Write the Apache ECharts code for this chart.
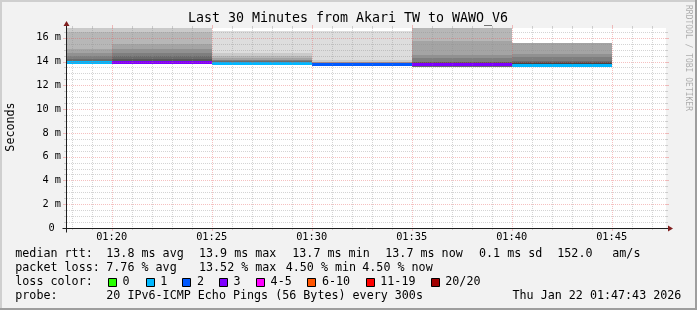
<!DOCTYPE html>
<html><head><meta charset="utf-8">
<script src="https://cdn.jsdelivr.net/npm/echarts@6/dist/echarts.min.js"></script>
<style>html,body{margin:0;padding:0;background:#f2f2f2}#c{width:697px;height:310px}</style>
</head><body><div id="c"></div><script>
// ================= DATA =================
const titleText = "Last 30 Minutes from Akari TW to WAWO_V6";
const yUnitLabel = "Seconds";
const startTime = "01:17:43";
const endTime = "01:47:43";
const stepMinutes = 5;
// end of each 5-minute interval (value covers the preceding 5 minutes)
const intervalEnds = ["01:20", "01:25", "01:30", "01:35", "01:40", "01:45"];
// median rtt (ms) per interval
const medianRtt = [13.92, 13.92, 13.89, 13.78, 13.78, 13.75];
// lost pings (out of 20) per interval
const lossCount = [1, 3, 1, 2, 3, 1];
// 20 sorted ping times (ms) per interval, null = lost / unknown
const pings_0120 = [13.78, 13.78, 13.78, 13.78, 13.78, 13.78, 13.80, 13.82, 13.85, 13.90,
                    13.95, 14.00, 14.05, 14.23, 14.45, 14.73, 15.02, 16.50, 16.82, null];
const pings_0125 = [13.80, 13.80, 13.80, 13.80, 13.80, 13.81, 13.82, 13.84, 13.86, 13.90,
                    13.98, 14.08, 14.23, 14.45, 14.68, 15.02, 15.44, 16.50, 16.82, null];
const pings_0130 = [13.67, 13.68, 13.68, 13.68, 13.68, 13.70, 13.72, 13.75, 13.80, 13.85,
                    13.95, 13.98, 14.00, 14.05, 14.10, 14.17, 14.30, 14.45, 14.73, 16.55];
const pings_0135 = [13.64, 13.65, 13.66, 13.67, 13.68, 13.69, 13.70, 13.71, 13.72, 13.74,
                    13.82, 13.84, 13.86, 13.88, 13.90, 13.92, 13.95, 14.00, 14.10, 16.55];
const pings_0140 = [null, null, 13.58, 13.58, 13.58, 13.58, 13.58, 13.60, 13.65, 13.70,
                    13.85, 13.90, 13.95, 14.00, 14.26, 14.54, 15.70, 16.82, null, null];
const pings_0145 = [13.62, 13.62, 13.62, 13.63, 13.63, 13.64, 13.64, 13.65, 13.67, 13.70,
                    13.82, 13.88, 13.95, 14.06, 14.34, 14.60, 15.60, null, null, null];
// y axis
const yMin = 0;
const yMax = 16.82;
const yMajorTicks = [0, 2, 4, 6, 8, 10, 12, 14, 16];
const yMinorStep = 0.5;
// x axis tick labels
const xTickLabels = ["01:20", "01:25", "01:30", "01:35", "01:40", "01:45"];
// loss colour legend
const lossLegendLabels = ["0", "1", "2", "3", "4-5", "6-10", "11-19", "20/20"];
const lossLegendUpper = [0, 1, 2, 3, 5, 10, 19, 20];
const lossLegendColors = ["#26ff00", "#00b8ff", "#0059ff", "#7e00ff", "#ff00ff", "#ff5500", "#ff0000", "#a10000"];
// statistics text
const rttStats = ["13.8 ms avg", "13.9 ms max", "13.7 ms min", "13.7 ms now", "0.1 ms sd", "152.0", "am/s"];
const lossStats = ["7.76 % avg", "13.52 % max", "4.50 % min", "4.50 % now"];
const probeText = "20 IPv6-ICMP Echo Pings (56 Bytes) every 300s";
const dateText = "Thu Jan 22 01:47:43 2026";
const watermark = "RRDTOOL / TOBI OETIKER";

// ================= HELPERS / STYLE =================
function toMin(s){ const p = s.split(':').map(Number); return p[0]*60 + p[1] + (p[2]||0)/60; }
const xMin = toMin(startTime), xMax = toMin(endTime);
const MONO = "DejaVu Sans Mono";
const gridColor = "rgba(143,143,143,0.38)";
const mgridColor = "rgba(230,90,90,0.38)";
const axisColor = "#1f1f1f";
const arrowColor = "#801f1f";
function lossIndex(c){ for (let i=0;i<lossLegendUpper.length;i++){ if (c <= lossLegendUpper[i]) return i; } return lossLegendUpper.length-1; }
function fmtTime(v){ const h = Math.floor(v/60), m = Math.round(v - h*60); return String(h).padStart(2,'0') + ':' + String(m).padStart(2,'0'); }

const pingSets = [pings_0120, pings_0125, pings_0130, pings_0135, pings_0140, pings_0145];
const smokeData = [];
for (let b = 1; b <= 10; b++) {
  intervalEnds.forEach((t, s) => {
    const p = pingSets[s];
    const lo = p[b-1], hi = p[20-b];
    if (lo == null || hi == null) return;
    const te = toMin(t);
    smokeData.push([te - stepMinutes, te, lo, hi, b]);
  });
}
const medianData = intervalEnds.map((t, s) => { const te = toMin(t); return [te - stepMinutes, te, medianRtt[s], lossIndex(lossCount[s])]; });

const yGridData = [];
for (let v = yMin + yMinorStep; v < yMax; v += yMinorStep) {
  const r = Math.round(v*10)/10;
  yGridData.push([r, yMajorTicks.indexOf(r) >= 0 && r !== 0 ? 1 : 0]);
}
const xMajorVals = xTickLabels.map(toMin);
const xGridData = [];
for (let v = Math.ceil(xMin); v <= Math.floor(xMax); v++) xGridData.push([v, xMajorVals.indexOf(v) >= 0 ? 1 : 0]);

function renderSmoke(params, api){
  const a = api.coord([api.value(0), api.value(3)]);
  const b = api.coord([api.value(1), api.value(2)]);
  const band = api.value(4);
  const c = Math.floor(190/10*(10-band)) + 50;
  const h = c.toString(16).padStart(2,'0');
  const x0 = Math.round(a[0]), x1 = Math.round(b[0]), y0 = Math.round(a[1]), y1 = Math.round(b[1]);
  return {type:'rect', shape:{x:x0, y:y0, width:x1-x0, height:Math.max(y1-y0,0)}, style:{fill:'#'+h+h+h}};
}
function renderMedian(params, api){
  const a = api.coord([api.value(0), api.value(2)]);
  const b = api.coord([api.value(1), api.value(2)]);
  const x0 = Math.round(a[0]), x1 = Math.round(b[0]), y = Math.round(a[1]);
  return {type:'rect', shape:{x:x0, y:y-1, width:x1-x0, height:3}, style:{fill:lossLegendColors[api.value(3)]}};
}
function renderYGrid(params, api){
  const cs = params.coordSys;
  const v = api.value(0), major = api.value(1);
  const y = Math.round(api.coord([xMin, v])[1]) + 0.5;
  const col = major ? mgridColor : gridColor;
  const t = major ? 3 : 2;
  return {type:'group', children:[
    {type:'line', shape:{x1:cs.x+1, y1:y, x2:cs.x+cs.width, y2:y}, style:{stroke:col, lineWidth:1, lineDash:[1,1]}},
    {type:'line', shape:{x1:cs.x-t, y1:y, x2:cs.x, y2:y}, style:{stroke:col, lineWidth:1}},
    {type:'line', shape:{x1:cs.x+cs.width, y1:y, x2:cs.x+cs.width+t, y2:y}, style:{stroke:col, lineWidth:1}}
  ]};
}
function renderXGrid(params, api){
  const cs = params.coordSys;
  const v = api.value(0), major = api.value(1);
  const x = Math.round(api.coord([v, yMin])[0]) + 0.5;
  const col = major ? mgridColor : gridColor;
  const t = major ? 3 : 2;
  const yb = cs.y + cs.height;
  return {type:'group', children:[
    {type:'line', shape:{x1:x, y1:cs.y, x2:x, y2:yb}, style:{stroke:col, lineWidth:1, lineDash:[1,1]}},
    {type:'line', shape:{x1:x, y1:yb, x2:x, y2:yb+t}, style:{stroke:col, lineWidth:1}},
    {type:'line', shape:{x1:x, y1:cs.y-t, x2:x, y2:cs.y}, style:{stroke:col, lineWidth:1}}
  ]};
}
function renderAxes(params, api){
  const cs = params.coordSys;
  const x0 = Math.round(cs.x) + 0.5, y0 = Math.round(cs.y + cs.height) + 0.5;
  const xr = Math.round(cs.x + cs.width), yt = Math.round(cs.y);
  return {type:'group', children:[
    {type:'line', shape:{x1:x0-4, y1:y0, x2:xr+4, y2:y0}, style:{stroke:axisColor, lineWidth:1}},
    {type:'line', shape:{x1:x0, y1:y0+4, x2:x0, y2:yt-4}, style:{stroke:axisColor, lineWidth:1}},
    {type:'polygon', shape:{points:[[xr+2, y0-3], [xr+2, y0+3], [xr+7, y0]]}, style:{fill:arrowColor}},
    {type:'polygon', shape:{points:[[x0-3, yt-2], [x0+3, yt-2], [x0, yt-7]]}, style:{fill:arrowColor}}
  ]};
}

// ================= GRAPHIC (frame, titles, legend) =================
const txt = (x, y, s, size) => ({type:'text', x:x, y:y, silent:true,
  style:{text:s, font: size + 'px "' + MONO + '"', fill:'#000', align:'left', verticalAlign:'middle'}});
const graphics = [
  {type:'rect', shape:{x:0, y:0, width:697, height:2}, style:{fill:'#cfcfcf'}, silent:true},
  {type:'rect', shape:{x:0, y:0, width:2, height:310}, style:{fill:'#cfcfcf'}, silent:true},
  {type:'rect', shape:{x:0, y:308, width:697, height:2}, style:{fill:'#9e9e9e'}, silent:true},
  {type:'rect', shape:{x:695, y:0, width:2, height:310}, style:{fill:'#9e9e9e'}, silent:true}
];
const ttl = txt(348, 19, titleText, 13.3); ttl.style.align = 'center'; graphics.push(ttl);
const unit = txt(11, 127, yUnitLabel, 11.7); unit.style.align = 'center'; unit.rotation = Math.PI/2; graphics.push(unit);
const wm = txt(688.5, 5, watermark, 8); wm.style.fill = 'rgba(0,0,0,0.3)'; wm.rotation = -Math.PI/2; graphics.push(wm);
// legend rows
const row1X = [106.3, 199, 292.3, 385.3, 479, 557.3, 612.3];
graphics.push(txt(15.3, 254, "median rtt:", 11.7));
rttStats.forEach((s, i) => graphics.push(txt(row1X[i], 254, s, 11.7)));
const row2X = [106.3, 199, 285.7, 362.3];
graphics.push(txt(15.3, 268.3, "packet loss:", 11.7));
lossStats.forEach((s, i) => graphics.push(txt(row2X[i], 268.3, s, 11.7)));
graphics.push(txt(15.3, 282.3, "loss color:", 11.7));
const boxX = [108, 145.7, 182.3, 219, 256, 307.3, 365.7, 430.7];
lossLegendLabels.forEach((s, i) => {
  const bx = Math.round(boxX[i]);
  graphics.push({type:'rect', shape:{x:bx+0.5, y:278.5, width:8, height:8}, style:{fill:lossLegendColors[i], stroke:'#000', lineWidth:1}, silent:true});
  graphics.push(txt(boxX[i] + 14.6, 282.3, s, 11.7));
});
graphics.push(txt(15.3, 296, "probe:", 11.7));
graphics.push(txt(106.3, 296, probeText, 11.7));
graphics.push(txt(512.5, 296, dateText, 11.7));

// ================= CHART =================
const chart = echarts.init(document.getElementById('c'), null, {renderer:'canvas', width:697, height:310});
chart.setOption({
  animation:false,
  backgroundColor:'#f2f2f2',
  grid:{left:66, top:28, width:600, height:200, show:true, backgroundColor:'#ffffff', borderWidth:0, containLabel:false},
  xAxis:{type:'value', min:xMin, max:xMax,
    axisLine:{show:false}, axisTick:{show:false}, splitLine:{show:false},
    axisLabel:{customValues:xMajorVals, formatter:v => fmtTime(v), fontFamily:MONO, fontSize:10.3, color:'#000', margin:4}},
  yAxis:{type:'value', min:yMin, max:yMax,
    axisLine:{show:false}, axisTick:{show:false}, splitLine:{show:false},
    axisLabel:{customValues:yMajorTicks, formatter:v => v === 0 ? '0 ' : (v + ' m'), fontFamily:MONO, fontSize:10.3, color:'#000', margin:5}},
  graphic: graphics,
  series:[
    {type:'custom', name:'smoke', clip:true, z:2, data:smokeData, encode:{x:[0,1], y:[2,3]}, renderItem:renderSmoke, silent:true},
    {type:'custom', name:'median', clip:true, z:3, data:medianData, encode:{x:[0,1], y:2}, renderItem:renderMedian, silent:true},
    {type:'custom', name:'ygrid', z:4, data:yGridData, encode:{y:0}, renderItem:renderYGrid, silent:true},
    {type:'custom', name:'xgrid', z:4, data:xGridData, encode:{x:0}, renderItem:renderXGrid, silent:true},
    {type:'custom', name:'axes', z:5, data:[[xMin, yMin]], encode:{x:0, y:1}, renderItem:renderAxes, silent:true}
  ]
});
</script></body></html>
